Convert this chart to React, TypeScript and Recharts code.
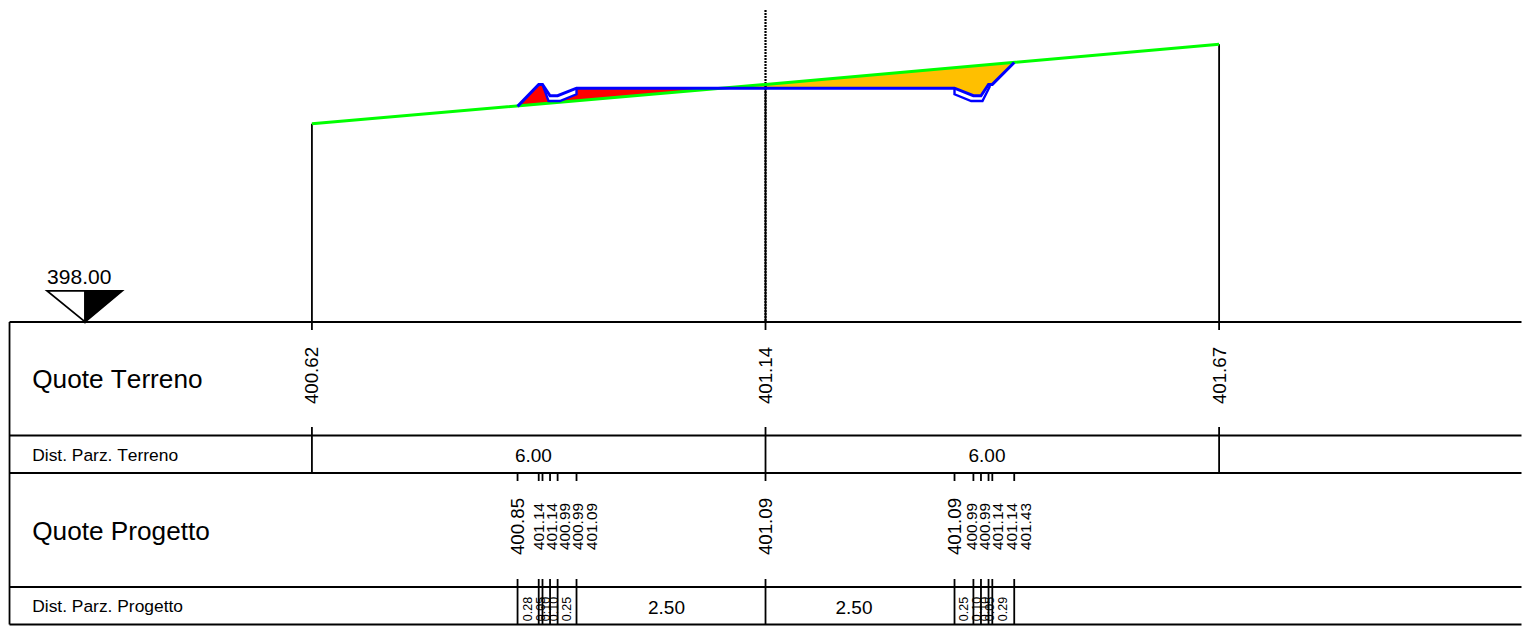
import { Area, ComposedChart, Line, ReferenceLine, Scatter, XAxis, YAxis } from 'recharts';

// Road cross section with its data table below. Two hidden y axes: elevation (m) for the
// section itself, and a "table" axis running top-down for the rows under the datum.
const WIDTH = 1528;
const HEIGHT = 626;
const X_DOMAIN = [-10.126, 10.086];
const ELEV_DOMAIN = [393.98, 402.256];
const FONT = '"Liberation Sans", Arial, sans-serif';

const DATUM = 398.0;
const terrainStations = [-6, 0, 6];
const terrainElevations = [400.62, 401.14, 401.67];
const terrainPartials = ['6.00', '6.00'];
const terrainPartialStations = [-3.07, 2.93];

const designStations = [-3.28, -3.0, -2.95, -2.85, -2.75, -2.5, 0, 2.5, 2.75, 2.85, 2.95, 3.0, 3.29];
const designElevations = [400.85, 401.14, 401.14, 400.99, 400.99, 401.09, 401.09, 401.09, 400.99, 400.99, 401.14, 401.14, 401.43];

// underside of the lined ditches
const liningLeftStations = [-2.95, -2.87, -2.72, -2.5, -2.5];
const liningLeftElevations = [401.14, 400.92, 400.92, 401.01, 401.09];
const liningRightStations = [2.5, 2.5, 2.72, 2.87, 2.97];
const liningRightElevations = [401.09, 401.01, 400.92, 400.92, 401.12];

// fill (red) : station, terrain, underside of design
const fillStations = [-3.28, -3.0, -2.95, -2.87, -2.72, -2.5, -2.5, -0.58];
const fillLow = [400.85, 400.88, 400.884, 400.89, 400.904, 400.923, 400.923, 401.09];
const fillHigh = [400.85, 401.14, 401.14, 400.92, 400.92, 401.01, 401.09, 401.09];

// cut (orange) : station, design, terrain
const cutStations = [-0.58, 0, 2.5, 2.75, 2.85, 2.95, 3.0, 3.29];
const cutLow = [401.09, 401.09, 401.09, 400.99, 400.99, 401.14, 401.14, 401.43];
const cutHigh = [401.09, 401.14, 401.361, 401.383, 401.392, 401.4, 401.405, 401.43];

const designBigLabels = ['400.85', '401.09', '401.09'];
const designBigStations = [-3.28, 0, 2.5];
const designSmallLabels = ['401.14', '401.14', '400.99', '400.99', '401.09', '400.99', '400.99', '401.14', '401.14', '401.43'];
const designSmallStations = [-2.99, -2.818, -2.646, -2.474, -2.3, 2.73, 2.9, 3.075, 3.26, 3.445];

const designPartials = ['2.50', '2.50'];
const designPartialStations = [-1.31, 1.17];
const designSmallPartials = ['0.28', '0.05', '0.10', '0.10', '0.25', '0.25', '0.10', '0.10', '0.05', '0.29'];
const designSmallPartialStations = [-3.14, -2.975, -2.9, -2.8, -2.625, 2.625, 2.8, 2.9, 2.975, 3.145];

const rowTitles = ['Quote Terreno', 'Dist. Parz. Terreno', 'Quote Progetto', 'Dist. Parz. Progetto'];
const rowEdges = [322, 435.5, 473, 587, 624.5];

const line = (xs: number[], ys: number[]) => xs.map((x, i) => ({ x, y: ys[i] }));
const band = (xs: number[], lo: number[], hi: number[]) => xs.map((x, i) => ({ x, range: [lo[i], hi[i]] }));
const labels = (xs: number[], texts: string[], row: number) => xs.map((x, i) => ({ x, row, text: texts[i] }));

function textShape(size: number, rotated = false, anchor = 'middle', length?: number) {
  return (p: any) => (
    <text
      x={p.cx}
      y={p.cy}
      fontFamily={FONT}
      fontSize={size}
      fill="#000"
      textAnchor={anchor}
      dominantBaseline="central"
      textLength={length}
      lengthAdjust={length ? 'spacingAndGlyphs' : undefined}
      style={{ fontKerning: 'none' }}
      transform={rotated ? `rotate(-90 ${p.cx} ${p.cy})` : undefined}
    >
      {p.payload.text}
    </text>
  );
}

function DatumMark(p: any) {
  const { cx, cy } = p;
  return (
    <g>
      <path d={`M${cx} ${cy}L${cx - 38} ${cy - 31}L${cx} ${cy - 31}Z`} fill="#fff" stroke="#000" strokeWidth={1.8} />
      <path d={`M${cx} ${cy}L${cx + 37} ${cy - 31}L${cx} ${cy - 31}Z`} fill="#000" stroke="#000" strokeWidth={1.8} />
      <text x={cx - 38} y={cy - 38} fontFamily={FONT} fontSize={21} fill="#000" style={{ fontKerning: 'none' }}>
        {DATUM.toFixed(2)}
      </text>
    </g>
  );
}

export default function App() {
  const black = { stroke: '#000', strokeWidth: 1.8 };
  return (
    <div style={{ position: 'absolute', left: 0, top: 0, width: WIDTH, height: HEIGHT, background: '#fff' }}>
      <ComposedChart width={WIDTH} height={HEIGHT} margin={{ top: 0, right: 0, bottom: 0, left: 0 }}>
        <XAxis xAxisId={0} dataKey="x" type="number" domain={X_DOMAIN} allowDataOverflow hide />
        <YAxis yAxisId="elev" dataKey="y" type="number" domain={ELEV_DOMAIN} allowDataOverflow hide />
        <YAxis yAxisId="table" dataKey="row" type="number" domain={[0, HEIGHT]} reversed allowDataOverflow hide />

        {rowEdges.map((row) => (
          <ReferenceLine key={row} yAxisId="table" segment={[{ x: -10, y: row }, { x: 10, y: row }]} {...black} />
        ))}
        <ReferenceLine yAxisId="table" segment={[{ x: -10, y: rowEdges[0] }, { x: -10, y: rowEdges[4] }]} {...black} />

        {terrainStations.map((s, i) => (
          <ReferenceLine key={`t${s}`} yAxisId="elev" segment={[{ x: s, y: terrainElevations[i] }, { x: s, y: DATUM }]} {...black} />
        ))}
        <ReferenceLine yAxisId="table" segment={[{ x: 0, y: 10 }, { x: 0, y: 322 }]} stroke="#000" strokeWidth={2.2} strokeDasharray="2 1" />
        {terrainStations.map((s) => (
          <ReferenceLine key={`a${s}`} yAxisId="table" segment={[{ x: s, y: 322 }, { x: s, y: 330 }]} {...black} />
        ))}
        {terrainStations.map((s) => (
          <ReferenceLine key={`b${s}`} yAxisId="table" segment={[{ x: s, y: 427 }, { x: s, y: 473 }]} {...black} />
        ))}
        {designStations.map((s) => (
          <ReferenceLine key={`c${s}`} yAxisId="table" segment={[{ x: s, y: 473 }, { x: s, y: 481 }]} {...black} />
        ))}
        {designStations.map((s) => (
          <ReferenceLine key={`d${s}`} yAxisId="table" segment={[{ x: s, y: 579 }, { x: s, y: 624.5 }]} {...black} />
        ))}

        <Area yAxisId="elev" data={band(fillStations, fillLow, fillHigh)} dataKey="range" type="linear" stroke="none" fill="#ff0000" fillOpacity={1} dot={false} activeDot={false} isAnimationActive={false} />
        <Area yAxisId="elev" data={band(cutStations, cutLow, cutHigh)} dataKey="range" type="linear" stroke="none" fill="#ffbf00" fillOpacity={1} dot={false} activeDot={false} isAnimationActive={false} />

        <Line yAxisId="elev" data={line(terrainStations, terrainElevations)} dataKey="y" type="linear" stroke="#00ff00" strokeWidth={3} dot={false} activeDot={false} isAnimationActive={false} />
        <Line yAxisId="elev" data={line(liningLeftStations, liningLeftElevations)} dataKey="y" type="linear" stroke="#0000ff" strokeWidth={2.4} dot={false} activeDot={false} isAnimationActive={false} />
        <Line yAxisId="elev" data={line(liningRightStations, liningRightElevations)} dataKey="y" type="linear" stroke="#0000ff" strokeWidth={2.4} dot={false} activeDot={false} isAnimationActive={false} />
        <Line yAxisId="elev" data={line(designStations, designElevations)} dataKey="y" type="linear" stroke="#0000ff" strokeWidth={3} dot={false} activeDot={false} isAnimationActive={false} />

        <Scatter yAxisId="elev" data={[{ x: -9, y: DATUM }]} shape={DatumMark} isAnimationActive={false} />

        <Scatter yAxisId="table" data={labels(terrainStations, terrainElevations.map((v) => v.toFixed(2)), 375.5)} shape={textShape(18.7, true)} isAnimationActive={false} />
        <Scatter yAxisId="table" data={labels(terrainPartialStations, terrainPartials, 455)} shape={textShape(19)} isAnimationActive={false} />
        <Scatter yAxisId="table" data={labels(designBigStations, designBigLabels, 526.5)} shape={textShape(18.7, true)} isAnimationActive={false} />
        <Scatter yAxisId="table" data={labels(designSmallStations, designSmallLabels, 526.5)} shape={textShape(14, true, 'middle', 47)} isAnimationActive={false} />
        <Scatter yAxisId="table" data={labels(designPartialStations, designPartials, 607)} shape={textShape(19)} isAnimationActive={false} />
        <Scatter yAxisId="table" data={labels(designSmallPartialStations, designSmallPartials, 609)} shape={textShape(12.5, true)} isAnimationActive={false} />

        <Scatter yAxisId="table" data={labels([-9.7], [rowTitles[0]], 379)} shape={textShape(26.2, false, 'start')} isAnimationActive={false} />
        <Scatter yAxisId="table" data={labels([-9.7], [rowTitles[1]], 455)} shape={textShape(17.4, false, 'start')} isAnimationActive={false} />
        <Scatter yAxisId="table" data={labels([-9.7], [rowTitles[2]], 531)} shape={textShape(26.2, false, 'start')} isAnimationActive={false} />
        <Scatter yAxisId="table" data={labels([-9.7], [rowTitles[3]], 606)} shape={textShape(17.4, false, 'start')} isAnimationActive={false} />
      </ComposedChart>
    </div>
  );
}
